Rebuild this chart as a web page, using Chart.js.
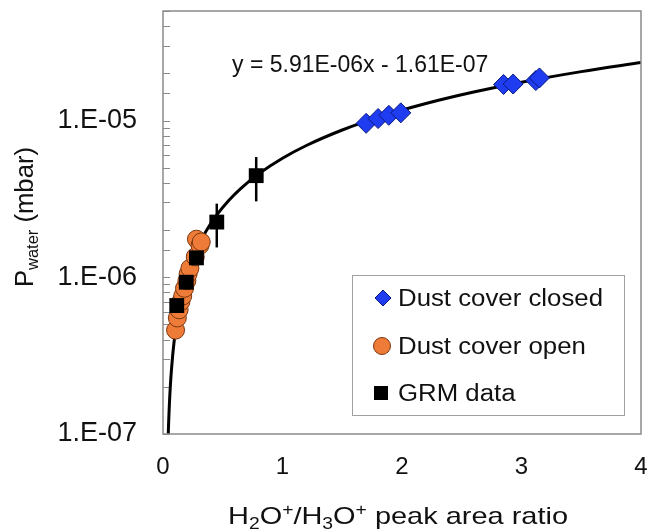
<!DOCTYPE html>
<html>
<head>
<meta charset="utf-8">
<script src="https://cdn.jsdelivr.net/npm/chart.js@4.4.1/dist/chart.umd.min.js"></script>
<style>
  html, body { margin: 0; padding: 0; background: #fff; overflow: hidden; }
  #wrap { width: 652px; height: 531px; position: relative; }
</style>
</head>
<body>
<div id="wrap"><canvas id="grafica"></canvas></div>
<script>
// data
const closedX = [1.70, 1.80, 1.89, 1.99, 2.85, 2.93, 3.12, 3.15];
const closedY = [9.6e-6, 1.03e-5, 1.08e-5, 1.12e-5, 1.70e-5, 1.71e-5, 1.80e-5, 1.87e-5];

const openX = [0.105, 0.12, 0.135, 0.15, 0.165, 0.18, 0.20, 0.21, 0.225, 0.27, 0.28, 0.31, 0.32];
const openY = [4.6e-7, 5.5e-7, 6.2e-7, 7.0e-7, 7.6e-7, 8.5e-7, 9.5e-7, 1.05e-6, 1.14e-6, 1.35e-6, 1.75e-6, 1.6e-6, 1.68e-6];

const grmX = [0.115, 0.195, 0.28, 0.45, 0.78];
const grmY = [6.6e-7, 9.3e-7, 1.33e-6, 2.25e-6, 4.45e-6];
const grmErr = [0, 0, 0, 0.7e-6, 1.4e-6];

// trend line printed on the chart
const fitSlope = 5.91e-6;
const fitIntercept = -1.61e-7;
const fitX = [0.0442, 0.046, 0.048, 0.05, 0.053, 0.056, 0.06, 0.065, 0.07, 0.08, 0.09, 0.1, 0.115,
  0.13, 0.15, 0.17, 0.2, 0.23, 0.27, 0.32, 0.38, 0.45, 0.55, 0.65, 0.8, 1, 1.2, 1.5, 1.8, 2.2,
  2.6, 3, 3.5, 4];

const yTickValues = [1e-7, 1e-6, 1e-5];
const yTickLabels = ["1.E-07", "1.E-06", "1.E-05"];
const xTicks = [0, 1, 2, 3, 4];

const legendNames = ["Dust cover closed", "Dust cover open", "GRM data"];
const equationText = "y = 5.91E-06x - 1.61E-07";

const FONT = "'Liberation Sans', Arial, sans-serif";
const colClosed = "#1f3cf0";
const colOpen = "#ee7b37";

function toPoints(xs, ys) {
  return xs.map((x, i) => ({ x: x, y: ys[i] }));
}

// draw a run of text pieces (for sub/superscripts), optionally stretched to a width
function drawRuns(ctx, runs, x, y, targetWidth) {
  let w = 0;
  runs.forEach((r) => {
    ctx.font = r.size + "px " + FONT;
    w += ctx.measureText(r.t).width;
  });
  const s = targetWidth ? targetWidth / w : 1;
  ctx.save();
  ctx.translate(x, y);
  ctx.scale(s, 1);
  let cx = 0;
  runs.forEach((r) => {
    ctx.font = r.size + "px " + FONT;
    ctx.fillText(r.t, cx, r.dy || 0);
    cx += ctx.measureText(r.t).width;
  });
  ctx.restore();
}

const framePlugin = {
  id: "frame",
  beforeDatasetsDraw(chart) {
    const ctx = chart.ctx;
    const a = chart.chartArea;
    const ys = chart.scales.y;
    const xs = chart.scales.x;
    ctx.save();
    // minor / major ticks inside left axis
    ctx.strokeStyle = "#8a8a8a";
    ctx.lineWidth = 1;
    ys.ticks.forEach((t) => {
      const py = Math.round(ys.getPixelForValue(t.value)) + 0.5;
      ctx.beginPath();
      ctx.moveTo(a.left, py);
      ctx.lineTo(a.left + 7, py);
      ctx.stroke();
    });
    // error bars
    ctx.strokeStyle = "#000";
    ctx.lineWidth = 2.5;
    grmX.forEach((x, i) => {
      if (!grmErr[i]) return;
      const px = xs.getPixelForValue(x);
      ctx.beginPath();
      ctx.moveTo(px, ys.getPixelForValue(grmY[i] + grmErr[i]));
      ctx.lineTo(px, ys.getPixelForValue(grmY[i] - grmErr[i]));
      ctx.stroke();
    });
    ctx.restore();
  },
  afterDraw(chart) {
    const ctx = chart.ctx;
    const a = chart.chartArea;
    ctx.save();
    ctx.strokeStyle = "#8a8a8a";
    ctx.lineWidth = 1.5;
    ctx.strokeRect(a.left, a.top, a.right - a.left, a.bottom - a.top);

    ctx.fillStyle = "#111";
    ctx.textBaseline = "alphabetic";
    // equation
    ctx.font = "23px " + FONT;
    ctx.fillText(equationText, 232, 72);

    // x title
    drawRuns(ctx, [
      { t: "H", size: 24 }, { t: "2", size: 16, dy: 5 }, { t: "O", size: 24 },
      { t: "+", size: 16, dy: -9 }, { t: "/H", size: 24 }, { t: "3", size: 16, dy: 5 },
      { t: "O", size: 24 }, { t: "+", size: 16, dy: -9 }, { t: " peak area ratio", size: 24 }
    ], 228, 524, 340);

    // y title (rotated)
    ctx.save();
    ctx.translate(33, 287);
    ctx.rotate(-Math.PI / 2);
    drawRuns(ctx, [
      { t: "P", size: 25 }, { t: "water", size: 16, dy: 5 }, { t: " (mbar)", size: 25 }
    ], 0, 0, 140);
    ctx.restore();

    // legend box
    ctx.strokeStyle = "#a0a0a0";
    ctx.lineWidth = 1;
    ctx.fillStyle = "#fff";
    ctx.fillRect(352.5, 275.5, 272, 140);
    ctx.strokeRect(352.5, 275.5, 272, 140);

    const rows = [298, 346, 393];
    // diamond
    ctx.fillStyle = colClosed;
    ctx.strokeStyle = "#0a1a80";
    ctx.beginPath();
    ctx.moveTo(383, rows[0] - 8);
    ctx.lineTo(391, rows[0]);
    ctx.lineTo(383, rows[0] + 8);
    ctx.lineTo(375, rows[0]);
    ctx.closePath();
    ctx.fill();
    ctx.stroke();
    // circle
    ctx.fillStyle = colOpen;
    ctx.strokeStyle = "#7a3810";
    ctx.beginPath();
    ctx.arc(382, rows[1], 8.5, 0, Math.PI * 2);
    ctx.fill();
    ctx.stroke();
    // square
    ctx.fillStyle = "#000";
    ctx.fillRect(374, rows[2] - 7, 14, 14);

    ctx.fillStyle = "#111";
    ctx.font = "23px " + FONT;
    const s = 205 / ctx.measureText(legendNames[0]).width;
    legendNames.forEach((n, i) => {
      ctx.save();
      ctx.translate(398, rows[i] + 8);
      ctx.scale(s, 1);
      ctx.fillText(n, 0, 0);
      ctx.restore();
    });
    ctx.restore();
  },
};

const cxt = document.getElementById("grafica");
const myChart = new Chart(cxt, {
  type: "scatter",
  data: {
    datasets: [
      {
        label: "fit",
        data: fitX.map((x) => ({ x: x, y: fitSlope * x + fitIntercept })),
        showLine: true,
        borderColor: "#000",
        borderWidth: 3,
        pointRadius: 0,
        cubicInterpolationMode: "monotone",
        order: 4,
      },
      {
        label: legendNames[1],
        data: toPoints(openX, openY),
        pointStyle: "circle",
        pointRadius: 9,
        backgroundColor: colOpen,
        borderColor: "#7a3810",
        borderWidth: 1,
        order: 3,
      },
      {
        label: legendNames[0],
        data: toPoints(closedX, closedY),
        pointStyle: "rectRot",
        pointRadius: 10,
        backgroundColor: colClosed,
        borderColor: "#0a1a80",
        borderWidth: 1,
        order: 2,
      },
      {
        label: legendNames[2],
        data: toPoints(grmX, grmY),
        pointStyle: "rect",
        pointRadius: 10.5,
        backgroundColor: "#000",
        borderColor: "#000",
        borderWidth: 0,
        order: 1,
      },
    ],
  },
  options: {
    responsive: true,
    maintainAspectRatio: false,
    animation: false,
    devicePixelRatio: 1,
    layout: { padding: { top: 9, right: 3, left: 0, bottom: 0 } },
    plugins: { legend: { display: false }, tooltip: { enabled: false } },
    scales: {
      x: {
        type: "linear",
        min: 0,
        max: 4,
        afterBuildTicks: (scale) => {
          scale.ticks = xTicks.map((v) => ({ value: v }));
        },
        afterFit: (scale) => {
          scale.height = 97;
          scale.paddingLeft = 0;
          scale.paddingRight = 0;
        },
        grid: { display: false, drawTicks: false },
        border: { display: false },
        ticks: {
          padding: 19,
          color: "#111",
          font: { family: FONT, size: 24 },
          callback: (v) => String(v),
        },
      },
      y: {
        type: "logarithmic",
        min: 1e-7,
        max: 5e-5,
        afterFit: (scale) => {
          scale.width = 163;
          scale.paddingTop = 0;
          scale.paddingBottom = 0;
        },
        grid: { display: false, drawTicks: false },
        border: { display: false },
        ticks: {
          autoSkip: false,
          padding: 26,
          color: "#111",
          font: { family: FONT, size: 27 },
          callback: (v) => {
            const i = yTickValues.findIndex((t) => Math.abs(t - v) / t < 1e-6);
            return i >= 0 ? yTickLabels[i] : "";
          },
        },
      },
    },
  },
  plugins: [framePlugin],
});
</script>
</body>
</html>
